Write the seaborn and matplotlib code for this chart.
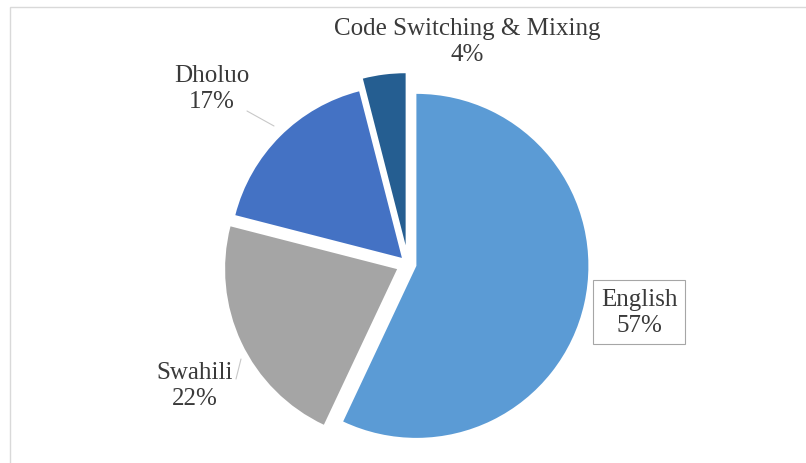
import matplotlib
matplotlib.use("Agg")
import matplotlib.pyplot as plt
import seaborn as sns
from matplotlib.patches import Rectangle

# data
languages = ["English", "Swahili", "Dholuo", "Code Switching & Mixing"]
shares = [57, 22, 17, 4]
colors = ["#5b9bd5", "#a5a5a5", "#4472c4", "#255e91"]
explode = [0.05, 0.07, 0.05, 0.11]

sns.set_theme(style="white")
plt.rcParams["font.family"] = ["Liberation Serif", "DejaVu Serif"]

fig = plt.figure(figsize=(8.06, 4.64), dpi=100)
ax = fig.add_axes([0, 0, 1, 1])

ax.pie(shares, colors=colors, explode=explode, startangle=90,
       counterclock=False, radius=1.0,
       wedgeprops=dict(linewidth=0))

# pie radius ~172 px, centre at (408, 265) px from top-left
cx, cy, r = 408, 265, 172
ax.set_aspect("auto")
ax.set_xlim(-cx / r, (806 - cx) / r)
ax.set_ylim(-(464 - cy) / r, cy / r)
ax.axis("off")

txt = dict(fontsize=18, color="#3a3a3a", ha="center", va="center",
           linespacing=1.25)

labels = [f"{n}\n{v}%" for n, v in zip(languages, shares)]
# label centres in pixels
pos_px = [(639, 313), (195, 386), (212, 89), (467, 42)]
pos = [((x - cx) / r, (cy - y) / r) for x, y in pos_px]

ax.text(*pos[0], labels[0], **txt,
        bbox=dict(boxstyle="square,pad=0.3", fc="white", ec="#a6a6a6", lw=0.8))
for i in (1, 2, 3):
    ax.text(*pos[i], labels[i], **txt)

# faint leader lines
ax.plot([(247 - cx) / r, (274 - cx) / r], [(cy - 112) / r, (cy - 127) / r],
        color="#c8c8c8", lw=0.8)
ax.plot([(236 - cx) / r, (241 - cx) / r], [(cy - 380) / r, (cy - 360) / r],
        color="#c8c8c8", lw=0.8)

# chart frame
fig.patches.append(Rectangle((10 / 806, -0.02), 1.0, 1.02 - 8 / 464,
                             transform=fig.transFigure, fill=False,
                             ec="#d9d9d9", lw=1.0))

fig.savefig("out.png", dpi=100)
